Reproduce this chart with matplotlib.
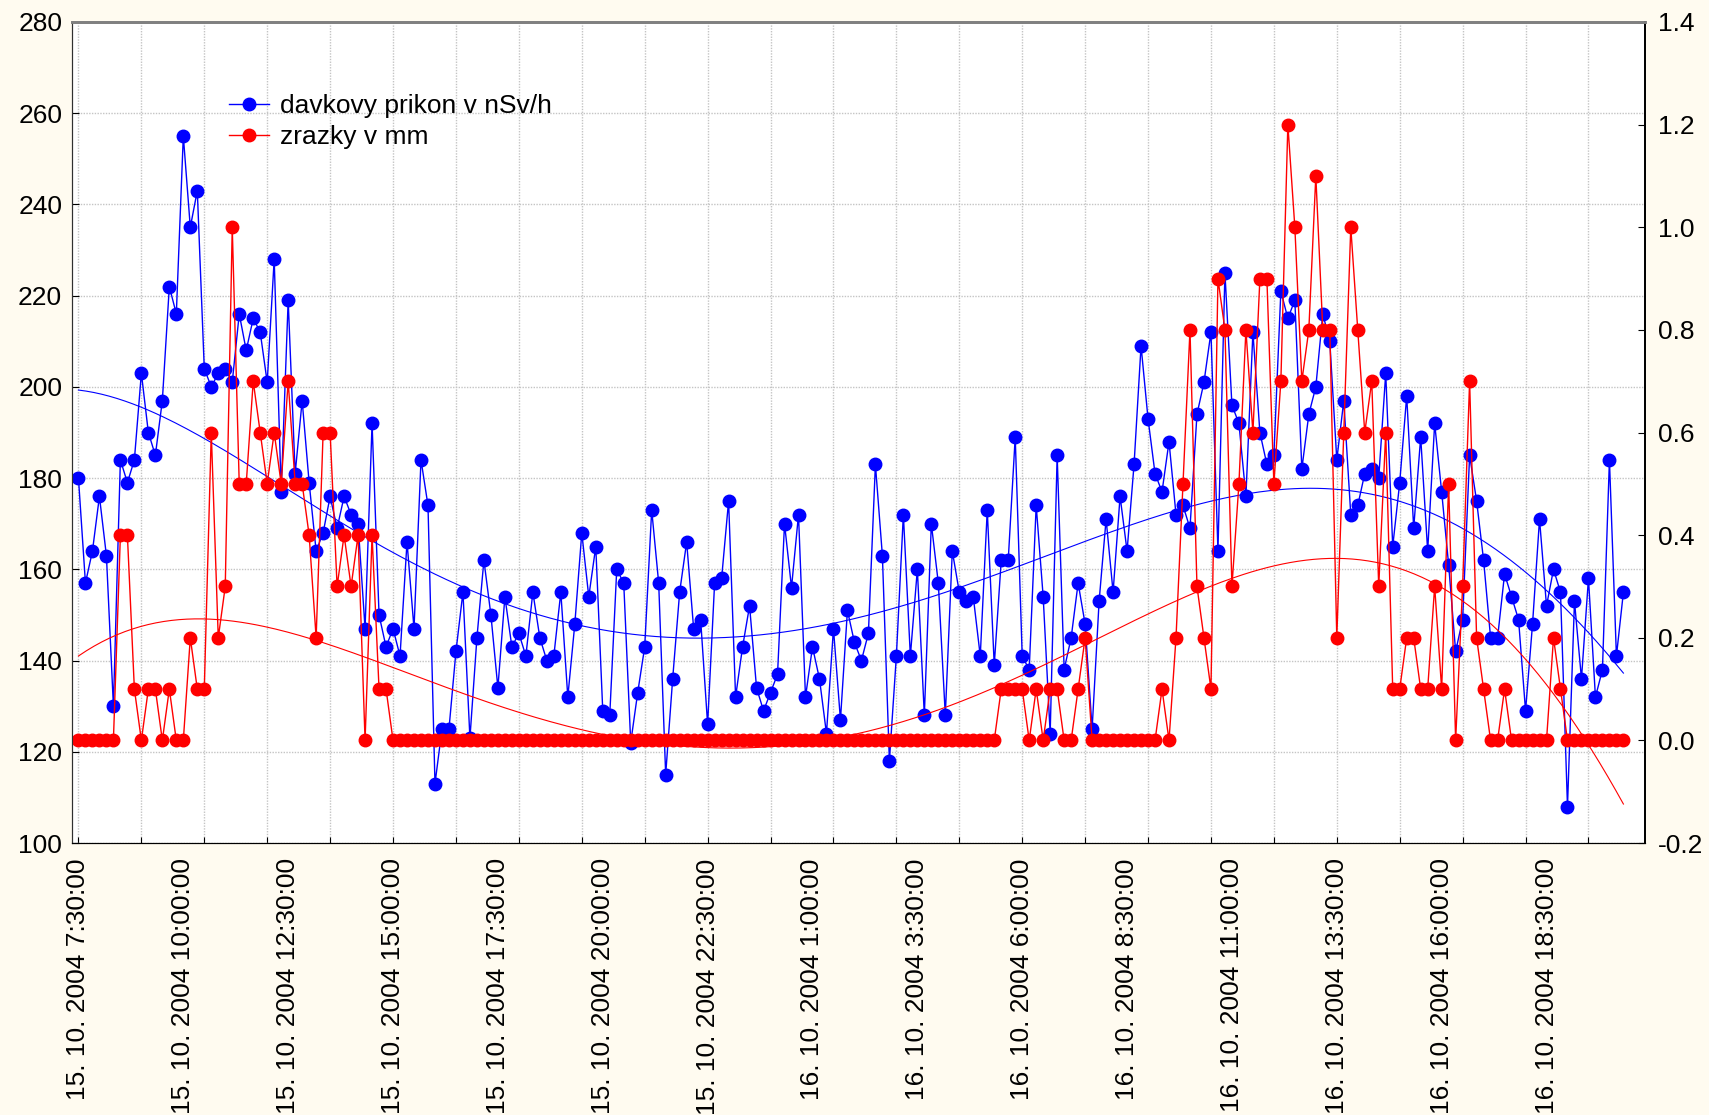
import numpy as np
import matplotlib.pyplot as plt
from matplotlib.ticker import FixedLocator

plt.rcParams.update(
    {
        "font.family": ["Liberation Sans", "DejaVu Sans"],
        "font.size": 19,
        "axes.unicode_minus": False,
    }
)

BG = "#FFFBF0"
BLUE = "#0000FF"
RED = "#FF0000"
GRID = "#C4C4C4"

# davkovy prikon (nSv/h), one value every 10 minutes from 15.10.2004 7:30
dose = [
    180, 157, 164, 176, 163, 130, 184, 179, 184, 203, 190, 185, 197, 222, 216,
    255, 235, 243, 204, 200, 203, 204, 201, 216, 208, 215, 212, 201, 228, 177,
    219, 181, 197, 179, 164, 168, 176, 169, 176, 172, 170, 147, 192, 150, 143,
    147, 141, 166, 147, 184, 174, 113, 125, 125, 142, 155, 123, 145, 162, 150,
    134, 154, 143, 146, 141, 155, 145, 140, 141, 155, 132, 148, 168, 154, 165,
    129, 128, 160, 157, 122, 133, 143, 173, 157, 115, 136, 155, 166, 147, 149,
    126, 157, 158, 175, 132, 143, 152, 134, 129, 133, 137, 170, 156, 172, 132,
    143, 136, 124, 147, 127, 151, 144, 140, 146, 183, 163, 118, 141, 172, 141,
    160, 128, 170, 157, 128, 164, 155, 153, 154, 141, 173, 139, 162, 162, 189,
    141, 138, 174, 154, 124, 185, 138, 145, 157, 148, 125, 153, 171, 155, 176,
    164, 183, 209, 193, 181, 177, 188, 172, 174, 169, 194, 201, 212, 164, 225,
    196, 192, 176, 212, 190, 183, 185, 221, 215, 219, 182, 194, 200, 216, 210,
    184, 197, 172, 174, 181, 182, 180, 203, 165, 179, 198, 169, 189, 164, 192,
    177, 161, 142, 149, 185, 175, 162, 145, 145, 159, 154, 149, 129, 148, 171,
    152, 160, 155, 108, 153, 136, 158, 132, 138, 184, 141, 155,
]

# zrazky (mm)
rain = (
    [0, 0, 0, 0, 0, 0, 0.4, 0.4, 0.1, 0, 0.1, 0.1, 0, 0.1, 0,
     0, 0.2, 0.1, 0.1, 0.6, 0.2, 0.3, 1.0, 0.5, 0.5, 0.7, 0.6, 0.5, 0.6, 0.5,
     0.7, 0.5, 0.5, 0.4, 0.2, 0.6, 0.6, 0.3, 0.4, 0.3, 0.4, 0, 0.4, 0.1, 0.1]
    + [0] * 87
    + [0.1, 0.1, 0.1, 0.1, 0, 0.1, 0, 0.1, 0.1, 0, 0, 0.1, 0.2]
    + [0] * 10
    + [0.1, 0, 0.2, 0.5, 0.8, 0.3, 0.2, 0.1, 0.9, 0.8, 0.3, 0.5, 0.8, 0.6, 0.9,
       0.9, 0.5, 0.7, 1.2, 1.0, 0.7, 0.8, 1.1, 0.8, 0.8, 0.2, 0.6, 1.0, 0.8, 0.6,
       0.7, 0.3, 0.6, 0.1, 0.1, 0.2, 0.2, 0.1, 0.1, 0.3, 0.1, 0.5, 0, 0.3, 0.7,
       0.2, 0.1, 0, 0, 0.1, 0, 0, 0, 0, 0, 0, 0.2, 0.1, 0, 0,
       0, 0, 0, 0, 0, 0, 0]
)

time_labels = [
    "15. 10. 2004 7:30:00", "15. 10. 2004 10:00:00", "15. 10. 2004 12:30:00",
    "15. 10. 2004 15:00:00", "15. 10. 2004 17:30:00", "15. 10. 2004 20:00:00",
    "15. 10. 2004 22:30:00", "16. 10. 2004 1:00:00", "16. 10. 2004 3:30:00",
    "16. 10. 2004 6:00:00", "16. 10. 2004 8:30:00", "16. 10. 2004 11:00:00",
    "16. 10. 2004 13:30:00", "16. 10. 2004 16:00:00", "16. 10. 2004 18:30:00",
]

left_ticks = [100, 120, 140, 160, 180, 200, 220, 240, 260, 280]
right_ticks = [-0.2, 0.0, 0.2, 0.4, 0.6, 0.8, 1.0, 1.2, 1.4]


def smooth(xv, yv, xs, h=42.0):
    # distance weighted local quadratic fit
    out = []
    for x0 in xs:
        d = xv - x0
        w = np.exp(-0.5 * (d / h) ** 2)
        c = np.polyfit(d, yv, 2, w=np.sqrt(w))
        out.append(c[-1])
    return np.array(out)


idx = np.arange(len(dose), dtype=float)
xs = np.linspace(0, idx[-1], 400)
fit_dose = smooth(idx, np.array(dose, float), xs)
fit_rain = smooth(idx, np.array(rain, float), xs)

fig = plt.figure(figsize=(17.09, 11.15), dpi=100, facecolor=BG)
ax = fig.add_axes([0.0421, 0.2439, 0.9205, 0.7364])
ax.set_facecolor("white")
ax2 = ax.twinx()

l1, = ax.plot(idx, dose, color=BLUE, lw=1.0, marker="o", ms=9, mec=BLUE, mfc=BLUE,
              label="davkovy prikon v nSv/h")
ax.plot(xs, fit_dose, color=BLUE, lw=0.8)
l2, = ax2.plot(idx, rain, color=RED, lw=1.0, marker="o", ms=9, mec=RED, mfc=RED,
               label="zrazky v mm")
ax2.plot(xs, fit_rain, color=RED, lw=0.8)

ax.set_xlim(-0.93, 224.1)
ax.set_ylim(100, 280)
ax2.set_ylim(-0.2, 1.4)

# grid every 1.5 h, labels every 2.5 h
ax.xaxis.remove_overlapping_locs = False
ax.xaxis.set_major_locator(FixedLocator(np.arange(0, 225, 9)))
ax.set_xticklabels([])
ax.set_xticks(np.arange(len(time_labels)) * 15, minor=True)
ax.set_xticklabels(time_labels, minor=True, rotation=90, va="top", ha="center")
ax.tick_params(axis="x", which="major", direction="in", length=4, width=0.8)
ax.tick_params(axis="x", which="minor", length=0, pad=11)

ax.set_yticks(left_ticks)
ax.tick_params(axis="y", direction="in", length=5, width=0.8, pad=7)
ax2.set_yticks(right_ticks)
ax2.set_yticklabels([f"{v:.1f}" for v in right_ticks])
ax2.tick_params(axis="y", direction="in", length=5, width=0.8, pad=9)

ax.grid(True, which="major", color=GRID, lw=1.0, ls=(0, (1, 1)))
ax.set_axisbelow(True)

for a in (ax, ax2):
    a.spines["top"].set_color("#808080")
    a.spines["top"].set_linewidth(2)
    a.spines["left"].set_color("#303030")
    a.spines["bottom"].set_color("black")
    a.spines["right"].set_color("black")
    a.spines["right"].set_linewidth(1.3)

ax2.legend(
    handles=[l1, l2],
    loc="upper left",
    bbox_to_anchor=(0.0998, 0.912),
    frameon=False,
    numpoints=1,
    handlelength=1.5,
    handletextpad=0.45,
    labelspacing=0.27,
    borderpad=0,
    borderaxespad=0,
    fontsize=19,
)

fig.savefig("out.png", dpi=100, facecolor=BG)
